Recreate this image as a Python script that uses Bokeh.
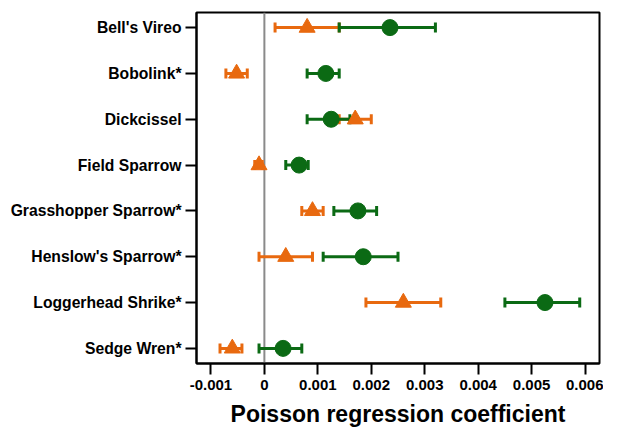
from bokeh.plotting import figure
from bokeh.models import Range1d, FixedTicker, Whisker, TeeHead, ColumnDataSource, Span
from bokeh.embed import file_html
from bokeh.resources import INLINE

categories = ["Bell's Vireo", "Bobolink*", "Dickcissel", "Field Sparrow",
              "Grasshopper Sparrow*", "Henslow's Sparrow*", "Loggerhead Shrike*", "Sedge Wren*"]
orange_mean = [0.0008, -0.00052, 0.0017, -0.0001, 0.0009, 0.0004, 0.0026, -0.0006]
orange_lo = [0.0002, -0.00072, 0.0014, -0.00018, 0.0007, -0.0001, 0.0019, -0.00083]
orange_hi = [0.0014, -0.00032, 0.0020, -0.00004, 0.0011, 0.0009, 0.0033, -0.00042]
green_mean = [0.00235, 0.00115, 0.00125, 0.00065, 0.00175, 0.00185, 0.00525, 0.00035]
green_lo = [0.0014, 0.0008, 0.0008, 0.0004, 0.0013, 0.0011, 0.0045, -0.0001]
green_hi = [0.0032, 0.0014, 0.0016, 0.00082, 0.0021, 0.0025, 0.0059, 0.0007]
x_ticks = [-0.001, 0.0, 0.001, 0.002, 0.003, 0.004, 0.005, 0.006]
x_tick_labels = ["-0.001", "0", "0.001", "0.002", "0.003", "0.004", "0.005", "0.006"]
x_label = "Poisson regression coefficient"

ORANGE = "#E8690F"
GREEN = "#0B6A14"
FONT = "Liberation Sans"

ypos = list(range(len(categories)))
osrc = ColumnDataSource(dict(y=ypos, m=orange_mean, lo=orange_lo, hi=orange_hi))
gsrc = ColumnDataSource(dict(y=ypos, m=green_mean, lo=green_lo, hi=green_hi))

p = figure(width=603, height=429, output_backend="svg", toolbar_location=None,
           x_range=Range1d(-0.00127, 0.00627), y_range=Range1d(7.33, -0.33),
           min_border_left=196, min_border_right=4, min_border_top=12, min_border_bottom=0)
p.xgrid.visible = False
p.ygrid.visible = False
p.outline_line_color = "black"
p.outline_line_width = 2
p.background_fill_color = "white"
p.border_fill_color = "white"

p.add_layout(Span(location=0, dimension="height", line_color="#8a8a8a", line_width=2, level="underlay"))

for src, col in ((osrc, ORANGE), (gsrc, GREEN)):
    w = Whisker(source=src, base="y", lower="lo", upper="hi", dimension="width",
                line_color=col, line_width=3,
                lower_head=TeeHead(size=10, line_color=col, line_width=3),
                upper_head=TeeHead(size=10, line_color=col, line_width=3))
    p.add_layout(w)

p.scatter("m", "y", source=gsrc, marker="circle", size=16, color=GREEN)
p.scatter("m", "y", source=osrc, marker="triangle", size=16, color=ORANGE)

xa = p.xaxis[0]
xa.ticker = FixedTicker(ticks=x_ticks)
xa.major_label_overrides = dict(zip(x_ticks, x_tick_labels))
xa.minor_tick_line_color = None
xa.major_tick_in = 0
xa.major_tick_out = 11
xa.major_tick_line_width = 2
xa.axis_line_width = 2
xa.major_label_text_font = FONT
xa.major_label_text_font_style = "bold"
xa.major_label_text_font_size = "15px"
xa.major_label_text_color = "black"
xa.major_label_standoff = 5
xa.axis_label = x_label
xa.axis_label_text_font = FONT
xa.axis_label_text_font_style = "bold"
xa.axis_label_text_font_size = "23px"
xa.axis_label_text_color = "black"
xa.axis_label_standoff = 8

ya = p.yaxis[0]
ya.ticker = FixedTicker(ticks=ypos)
ya.major_label_overrides = dict(zip(ypos, categories))
ya.minor_tick_line_color = None
ya.major_tick_in = 0
ya.major_tick_out = 11
ya.major_tick_line_width = 2
ya.axis_line_width = 2
ya.major_label_text_font = FONT
ya.major_label_text_font_style = "bold"
ya.major_label_text_font_size = "15.7px"
ya.major_label_text_color = "black"
ya.major_label_standoff = 4

open("out.html", "w").write(file_html(p, INLINE))
